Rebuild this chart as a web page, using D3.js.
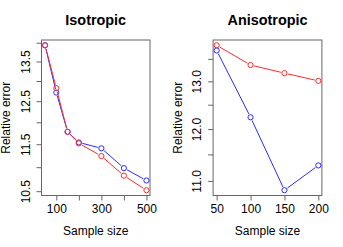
<!DOCTYPE html>
<html>
<head>
<meta charset="utf-8">
<script src="https://cdn.jsdelivr.net/npm/d3@7"></script>
<style>
  body { margin: 0; background: #fff; }
  svg text { font-family: "Liberation Sans", Arial, sans-serif; fill: #000; }
</style>
</head>
<body>
<div id="chart"></div>
<script>
// Isotropic panel
const isoSizes = [50, 100, 150, 200, 300, 400, 500];
const isoBlue = [13.93, 12.71, 11.78, 11.54, 11.41, 10.98, 10.72];
const isoRed = [13.93, 12.82, 11.78, 11.52, 11.24, 10.82, 10.52];
const isoXTicks = [100, 200, 300, 400, 500];
const isoXLabels = ["100", "", "300", "", "500"];
const isoYTicks = [14.0, 13.5, 13.0, 12.5, 12.0, 11.5, 11.0, 10.5];
const isoYLabels = ["", "13.5", "", "12.5", "", "11.5", "", "10.5"];

// Anisotropic panel
const anisoSizes = [50, 100, 150, 200];
const anisoBlue = [13.69, 12.24, 10.83, 11.29];
const anisoRed = [13.81, 13.36, 13.18, 13.01];
const anisoXTicks = [50, 100, 150, 200];
const anisoXLabels = ["50", "100", "150", "200"];
const anisoYTicks = [13.5, 13.0, 12.5, 12.0, 11.5, 11.0];
const anisoYLabels = ["", "13.0", "", "12.0", "", "11.0"];

const W = 343, H = 247;
const svg = d3.select("#chart").append("svg")
    .attr("width", W)
    .attr("height", H);

function Panel(opts) {
    this.opts = opts;
}

Panel.prototype = {
    constructor: Panel,

    draw: function() {
        let o = this.opts;
        let top = 39.5, bottom = 196;
        let g = svg.append("g");

        // R style 4% padding
        let xs = o.sizes;
        let xmin = d3.min(xs), xmax = d3.max(xs);
        let xpad = (xmax - xmin) * 0.04;
        let x = d3.scaleLinear()
            .domain([xmin - xpad, xmax + xpad])
            .range([o.left, o.right]);

        let all = o.blue.concat(o.red);
        let lmin = Math.log10(d3.min(all)), lmax = Math.log10(d3.max(all));
        let lpad = (lmax - lmin) * 0.04;
        let y = d3.scaleLog()
            .domain([Math.pow(10, lmin - lpad), Math.pow(10, lmax + lpad)])
            .range([bottom, top]);

        // box
        g.append("rect")
            .attr("x", o.left + 0.5).attr("y", top + 0.5)
            .attr("width", o.right - o.left - 1).attr("height", bottom - top - 1)
            .attr("fill", "none").attr("stroke", "#666").attr("stroke-width", 1);

        // x axis
        let xa = g.append("g")
            .attr("transform", "translate(0," + (bottom - 0.5) + ")")
            .call(d3.axisBottom(x)
                .tickValues(o.xTicks)
                .tickSize(5)
                .tickPadding(4)
                .tickFormat((d, i) => o.xLabels[i]));
        xa.select(".domain").remove();
        xa.selectAll("line").attr("stroke", "#666");
        xa.selectAll("text")
            .attr("font-size", "12px")
            .attr("font-family", "Liberation Sans, Arial, sans-serif");

        // y axis
        let ya = g.append("g")
            .attr("transform", "translate(" + (o.left + 0.5) + ",0)")
            .call(d3.axisLeft(y)
                .tickValues(o.yTicks)
                .tickSize(5)
                .tickFormat((d, i) => o.yLabels[i]));
        ya.select(".domain").remove();
        ya.selectAll("line").attr("stroke", "#666");
        ya.selectAll("text")
            .attr("font-size", "12px")
            .attr("font-family", "Liberation Sans, Arial, sans-serif")
            .attr("text-anchor", "middle")
            .attr("x", 0).attr("dy", 0)
            .attr("transform", "translate(-12,0) rotate(-90)");

        // titles
        g.append("text")
            .attr("x", (o.left + o.right) / 2).attr("y", 25)
            .attr("text-anchor", "middle")
            .attr("font-size", "14.4px").attr("font-weight", "bold")
            .text(o.title);
        g.append("text")
            .attr("x", (o.left + o.right) / 2).attr("y", 235)
            .attr("text-anchor", "middle")
            .attr("font-size", "12px")
            .text("Sample size");
        g.append("text")
            .attr("transform", "translate(" + (o.left - 31) + "," + ((top + bottom) / 2) + ") rotate(-90)")
            .attr("text-anchor", "middle")
            .attr("font-size", "12px")
            .text("Relative error");

        // series, type "b": lines with gaps around points
        let series = [{ vals: o.blue, col: "#2b2bff" }, { vals: o.red, col: "#ff2b2b" }];
        let gap = 3.6;
        series.forEach(function(s) {
            let pts = xs.map((v, i) => [x(v), y(s.vals[i])]);
            for (let i = 0; i < pts.length - 1; i++) {
                let a = pts[i], b = pts[i + 1];
                let dx = b[0] - a[0], dy = b[1] - a[1];
                let len = Math.sqrt(dx * dx + dy * dy);
                if (len <= 2 * gap) continue;
                let ux = dx / len, uy = dy / len;
                g.append("line")
                    .attr("x1", a[0] + ux * gap).attr("y1", a[1] + uy * gap)
                    .attr("x2", b[0] - ux * gap).attr("y2", b[1] - uy * gap)
                    .attr("stroke", s.col).attr("stroke-width", 1);
            }
            g.selectAll(null)
                .data(pts)
                .enter().append("circle")
                .attr("cx", d => d[0]).attr("cy", d => d[1])
                .attr("r", 2.6)
                .attr("fill", "none")
                .attr("stroke", s.col).attr("stroke-width", 1);
        });
    }
};

new Panel({ title: "Isotropic", left: 41, right: 150.5,
    sizes: isoSizes, blue: isoBlue, red: isoRed,
    xTicks: isoXTicks, xLabels: isoXLabels, yTicks: isoYTicks, yLabels: isoYLabels }).draw();

new Panel({ title: "Anisotropic", left: 212.6, right: 322.4,
    sizes: anisoSizes, blue: anisoBlue, red: anisoRed,
    xTicks: anisoXTicks, xLabels: anisoXLabels, yTicks: anisoYTicks, yLabels: anisoYLabels }).draw();
</script>
</body>
</html>
